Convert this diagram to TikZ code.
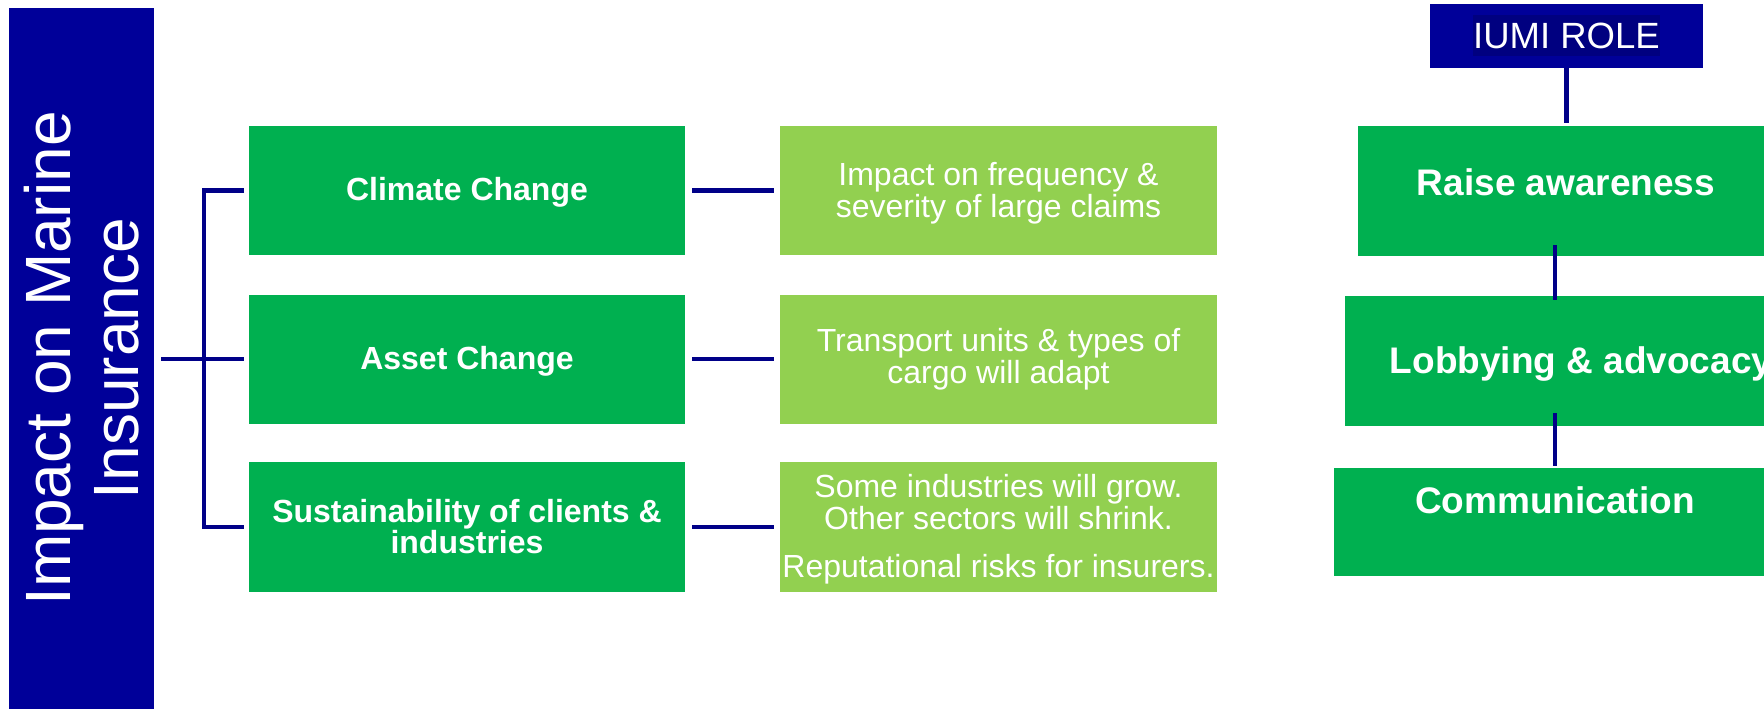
\documentclass[tikz,border=0pt]{standalone}
\usepackage{fontspec}
\setmainfont{Liberation Sans}
\usetikzlibrary{calc}
\definecolor{barblue}{HTML}{000099}
\definecolor{hlblue}{HTML}{000080}
\definecolor{connblue}{HTML}{000088}
\definecolor{dkgreen}{HTML}{00B050}
\definecolor{ltgreen}{HTML}{92D050}
\begin{document}
\begin{tikzpicture}[x=1pt,y=-1pt,
  box/.style={rectangle, inner sep=0pt, outer sep=0pt, text=white, align=center},
  cause/.style={box, fill=dkgreen, minimum width=436pt, minimum height=129pt, font=\fontsize{32}{31}\selectfont\bfseries},
  effect/.style={box, fill=ltgreen, minimum width=437pt, minimum height=129pt, font=\fontsize{32}{32}\selectfont},
  role/.style={box, fill=dkgreen, font=\fontsize{37}{40}\selectfont\bfseries},
  conn/.style={draw=connblue, line width=4.5pt}]
\useasboundingbox (0,0) rectangle (1764,709);
\fill[white] (0,0) rectangle (1764,709);
\clip (0,0) rectangle (1764,709);

% left bar
\node[box, fill=barblue, rotate=90, minimum width=701pt, minimum height=145pt,
      font=\fontsize{64}{68}\selectfont] (bar) at (81.5,358.5) {Impact on Marine\\Insurance};

% causes
\node[cause, text height=24pt, text depth=4pt] (climate) at (467,190.5) {Climate Change};
\node[cause, text height=24pt, text depth=4pt] (asset) at (467,359) {Asset Change};
\node[cause, minimum height=130pt] (sust) at (467,527) {Sustainability of clients \&\\industries};

% effects
\node[effect] (eff1) at (998.5,190.5) {\rule{0pt}{28pt}Impact on frequency \&\\severity of large claims};
\node[effect] (eff2) at (998.5,359) {Transport units \& types of\\cargo will adapt};
\node[effect, minimum height=130pt] (eff3) at (998.5,527) {\rule{0pt}{28pt}Some industries will grow.\\Other sectors will shrink.\\[16pt]Reputational risks for insurers.};

% IUMI role column
\node[box, fill=barblue, minimum width=273pt, minimum height=64pt,
      font=\fontsize{36.5}{40}\selectfont] (iumi) at (1566.5,36)
      {\setlength{\fboxsep}{0pt}\colorbox{hlblue}{\rule[-8pt]{0pt}{41pt}IUMI ROLE}};
\node[role, minimum width=416pt, minimum height=130pt, text height=27pt, text depth=19pt] (raise) at (1566,191) {Raise awareness};
\node[role, minimum width=472pt, minimum height=130pt, text height=28pt, text depth=4pt] (lobby) at (1581,361) {Lobbying \& advocacy};
\node[role, minimum width=442pt, minimum height=108pt, text height=26pt, text depth=44pt] (comm) at (1555,522) {Communication};

% connectors
\coordinate (spine) at (204,359);
\coordinate (cx) at (1555,0);
\draw[conn] ($(climate.west)+(-5,0)$) -| (spine |- sust.west) -- ($(sust.west)+(-5,0)$);
\draw[conn] ($(bar.south |- asset.west)+(7,0)$) -- ($(asset.west)+(-5,0)$);
\draw[conn] ($(climate.east)+(7,0)$) -- ($(eff1.west)+(-6,0)$);
\draw[conn] ($(asset.east)+(7,0)$) -- ($(eff2.west)+(-6,0)$);
\draw[conn] ($(sust.east)+(7,0)$) -- ($(eff3.west)+(-6,0)$);
\draw[conn] (iumi.south) -- ($(iumi.south |- raise.north)+(0,-3)$);
\draw[conn] ($(cx |- raise.south)+(0,-11)$) -- ($(cx |- lobby.north)+(0,4)$);
\draw[conn] ($(cx |- lobby.south)+(0,-13)$) -- ($(cx |- comm.north)+(0,-2)$);
\end{tikzpicture}
\end{document}
